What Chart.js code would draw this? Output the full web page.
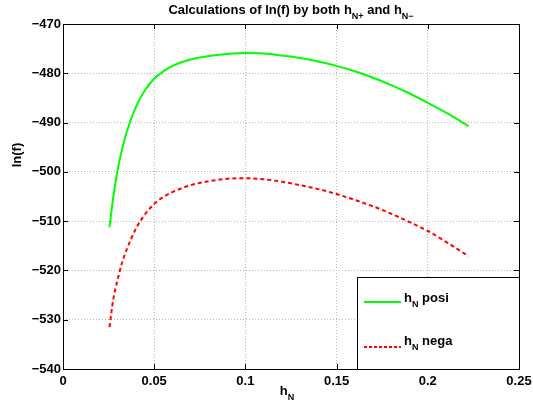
<!DOCTYPE html>
<html>
<head>
<meta charset="utf-8">
<style>
html,body{margin:0;padding:0;background:#fff;}
#wrap{width:533px;height:411px;position:relative;}
</style>
<script src="https://cdn.jsdelivr.net/npm/chart.js@4/dist/chart.umd.min.js"></script>
</head>
<body>
<div id="wrap"><canvas id="c" width="533" height="411"></canvas></div>
<script>
const hN = [0.0255,0.0275,0.03,0.0325,0.035,0.04,0.045,0.05,0.055,0.06,0.07,0.08,0.09,0.1,0.11,0.12,0.13,0.14,0.15,0.16,0.17,0.18,0.19,0.2,0.21,0.2223];
const posiValues = [-511.2,-505.3,-499.5,-495.3,-491.8,-486.8,-483.4,-481.1,-479.6,-478.5,-477.2,-476.5,-476.1,-475.9,-476.0,-476.4,-476.9,-477.6,-478.5,-479.6,-480.9,-482.4,-484.1,-486.0,-488.0,-490.7];
const negaValues = [-531.5,-526.0,-521.8,-518.3,-515.7,-511.5,-508.6,-506.5,-505.1,-504.1,-502.7,-501.9,-501.4,-501.3,-501.5,-502.0,-502.7,-503.5,-504.5,-505.7,-507.0,-508.5,-510.2,-512.0,-514.2,-517.1];
const xTicks = [0,0.05,0.1,0.15,0.2,0.25];
const yTicks = [-470,-480,-490,-500,-510,-520,-530,-540];
const xTickLabels = ['0','0.05','0.1','0.15','0.2','0.25'];
const FONT = '"Liberation Sans", Arial, Helvetica, sans-serif';

function drawParts(ctx, parts, x, y, align, size, subSize) {
  ctx.save();
  ctx.textBaseline = 'alphabetic';
  ctx.textAlign = 'left';
  let w = 0;
  parts.forEach(p => {
    ctx.font = 'bold ' + (p.sub ? subSize : size) + 'px ' + FONT;
    p.w = ctx.measureText(p.t).width;
    w += p.w;
  });
  let cx = align === 'center' ? x - w / 2 : x;
  parts.forEach(p => {
    ctx.font = 'bold ' + (p.sub ? subSize : size) + 'px ' + FONT;
    ctx.fillText(p.t, cx, p.sub ? y + 5 : y);
    cx += p.w;
  });
  ctx.restore();
}

const deco = {
  id: 'deco',
  afterDraw(chart) {
    const ctx = chart.ctx;
    const a = chart.chartArea;
    const xs = chart.scales.x, ys = chart.scales.y;
    ctx.save();
    ctx.fillStyle = '#000';
    ctx.strokeStyle = '#000';
    ctx.lineWidth = 1;
    ctx.strokeRect(Math.round(a.left) + 0.5, Math.round(a.top) + 0.5, Math.round(a.right - a.left), Math.round(a.bottom - a.top));
    const tl = 5;
    ctx.beginPath();
    xTicks.forEach(v => {
      const px = Math.round(xs.getPixelForValue(v)) + 0.5;
      ctx.moveTo(px, a.bottom); ctx.lineTo(px, a.bottom - tl);
      ctx.moveTo(px, a.top); ctx.lineTo(px, a.top + tl);
    });
    yTicks.forEach(v => {
      const py = Math.round(ys.getPixelForValue(v)) + 0.5;
      ctx.moveTo(a.left, py); ctx.lineTo(a.left + tl, py);
      ctx.moveTo(a.right, py); ctx.lineTo(a.right - tl, py);
    });
    ctx.stroke();
    // title
    drawParts(ctx, [
      {t: 'Calculations of ln(f) by both h'}, {t: 'N+', sub: true},
      {t: ' and h'}, {t: 'N\u2212', sub: true}
    ], (a.left + a.right) / 2, 14, 'center', 13, 9);
    // x title
    drawParts(ctx, [{t: 'h'}, {t: 'N', sub: true}], 287, 395, 'center', 13, 9);
    // y title
    ctx.save();
    ctx.translate(21, 155);
    ctx.rotate(-Math.PI / 2);
    ctx.font = 'bold 13px ' + FONT;
    ctx.textAlign = 'center';
    ctx.textBaseline = 'alphabetic';
    ctx.fillText('ln(f)', 0, 0);
    ctx.restore();
    // legend
    const lx = 357, ly = 277, lw = Math.round(a.right) - lx, lh = Math.round(a.bottom) - ly;
    ctx.fillStyle = '#fff';
    ctx.fillRect(lx + 0.5, ly + 0.5, lw, lh);
    ctx.strokeStyle = '#000';
    ctx.lineWidth = 1;
    ctx.strokeRect(lx + 0.5, ly + 0.5, lw, lh);
    const rows = [302, 347];
    chart.data.datasets.forEach((ds, i) => {
      const y = rows[i];
      ctx.save();
      ctx.strokeStyle = ds.borderColor;
      ctx.lineWidth = 2;
      ctx.setLineDash(ds.borderDash && ds.borderDash.length ? [3, 2] : []);
      ctx.beginPath();
      ctx.moveTo(364, y); ctx.lineTo(401, y);
      ctx.stroke();
      ctx.restore();
      ctx.fillStyle = '#000';
      const name = ds.label.split(' ')[1];
      drawParts(ctx, [{t: 'h'}, {t: 'N', sub: true}, {t: ' ' + name}], 404, y + (i === 0 ? 0 : -2), 'left', 13, 9);
    });
    ctx.restore();
  }
};

new Chart(document.getElementById('c'), {
  type: 'line',
  data: {
    datasets: [
      {label: 'hN posi', data: hN.map((x, i) => ({x: x, y: posiValues[i]})), borderColor: '#00ff00', borderWidth: 2, pointRadius: 0, cubicInterpolationMode: 'monotone', fill: false},
      {label: 'hN nega', data: hN.map((x, i) => ({x: x, y: negaValues[i]})), borderColor: '#ff0000', borderWidth: 2, borderDash: [4, 3], pointRadius: 0, cubicInterpolationMode: 'monotone', fill: false}
    ]
  },
  options: {
    responsive: false,
    animation: false,
    devicePixelRatio: 1,
    layout: {padding: {left: 0, right: 14, top: 24, bottom: 0}},
    plugins: {legend: {display: false}, title: {display: false}, tooltip: {enabled: false}},
    scales: {
      x: {
        type: 'linear', min: 0, max: 0.25,
        afterBuildTicks: s => { s.ticks = xTicks.map(v => ({value: v})); },
        afterFit: s => { s.height = 42; s.paddingLeft = 0; s.paddingRight = 0; },
        grid: {color: '#b8b8b8', lineWidth: 1, drawTicks: false},
        border: {display: false, dash: [1, 2]},
        ticks: {color: '#000', font: {family: FONT, size: 13, weight: 'bold'}, padding: 5, maxRotation: 0,
          callback: (v, i) => xTickLabels[i]}
      },
      y: {
        type: 'linear', min: -540, max: -470,
        afterBuildTicks: s => { s.ticks = yTicks.map(v => ({value: v})); },
        afterFit: s => { s.width = 63; s.paddingTop = 0; s.paddingBottom = 0; },
        grid: {color: '#b8b8b8', lineWidth: 1, drawTicks: false},
        border: {display: false, dash: [1, 2]},
        ticks: {color: '#000', font: {family: FONT, size: 13, weight: 'bold'}, padding: 2,
          callback: v => String(v).replace('-', '\u2212')}
      }
    }
  },
  plugins: [deco]
});
</script>
</body>
</html>
